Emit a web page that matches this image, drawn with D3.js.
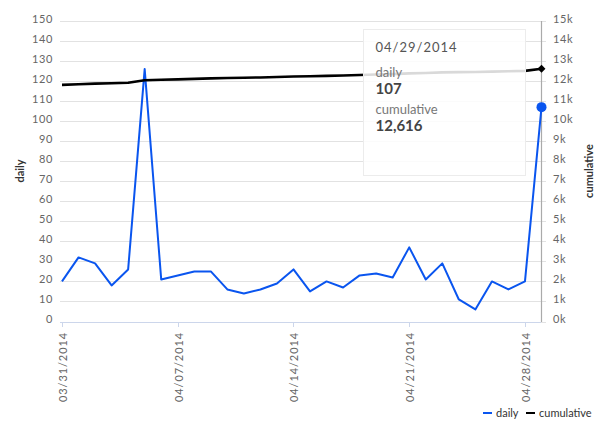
<!DOCTYPE html>
<html>
<head>
<meta charset="utf-8">
<script src="https://cdn.jsdelivr.net/npm/d3@7"></script>
<style>
  body { margin: 0; background: #fff; }
  svg { font-family: Lato, "Open Sans", sans-serif; }
</style>
</head>
<body>
<div id="chart"></div>
<script>
// data
var dates = ["03/31/2014","04/01/2014","04/02/2014","04/03/2014","04/04/2014","04/05/2014",
  "04/06/2014","04/07/2014","04/08/2014","04/09/2014","04/10/2014","04/11/2014","04/12/2014",
  "04/13/2014","04/14/2014","04/15/2014","04/16/2014","04/17/2014","04/18/2014","04/19/2014",
  "04/20/2014","04/21/2014","04/22/2014","04/23/2014","04/24/2014","04/25/2014","04/26/2014",
  "04/27/2014","04/28/2014","04/29/2014"];
var daily = [20, 32, 29, 18, 26, 126, 21, 23, 25, 25, 16, 14, 16, 19, 26, 15, 20, 17, 23, 24,
  22, 37, 21, 29, 11, 6, 20, 16, 20, 107];
var cumulative = [11812, 11844, 11873, 11891, 11917, 12043, 12064, 12087, 12112, 12137, 12153,
  12167, 12183, 12202, 12228, 12243, 12263, 12280, 12303, 12327, 12349, 12386, 12407, 12436,
  12447, 12453, 12473, 12489, 12509, 12616];
var xTicks = ["03/31/2014", "04/07/2014", "04/14/2014", "04/21/2014", "04/28/2014"];
var leftTicks = [0, 10, 20, 30, 40, 50, 60, 70, 80, 90, 100, 110, 120, 130, 140, 150];
var rightTicks = [0, 1000, 2000, 3000, 4000, 5000, 6000, 7000, 8000, 9000, 10000, 11000,
  12000, 13000, 14000, 15000];

var width = 599, height = 428;
var parse = d3.timeParse("%m/%d/%Y");
var fmt = d3.timeFormat("%m/%d/%Y");

var x = d3.scaleTime()
  .domain([parse(dates[0]), parse(dates[dates.length - 1])])
  .range([62, 541.5]);
var yL = d3.scaleLinear().domain([0, 150]).range([321.5, 21]);
var yR = d3.scaleLinear().domain([0, 15000]).range([321.5, 21]);

var svg = d3.select("#chart").append("svg")
  .attr("width", width)
  .attr("height", height);

// grid
svg.append("g").selectAll("line").data(leftTicks).enter().append("line")
  .attr("x1", 60).attr("x2", 546)
  .attr("y1", function(d) { return Math.round(yL(d)) + 0.5; })
  .attr("y2", function(d) { return Math.round(yL(d)) + 0.5; })
  .attr("stroke", "#e2e2e2");

// left axis labels
svg.append("g").selectAll("text").data(leftTicks).enter().append("text")
  .attr("x", 53).attr("y", function(d) { return yL(d) - 2; })
  .attr("dy", "0.35em")
  .attr("text-anchor", "end")
  .attr("font-size", 11).attr("fill", "#666").style("letter-spacing", "0.6px")
  .text(function(d) { return d; });

// right axis line + labels
svg.append("line")
  .attr("x1", 541.5).attr("x2", 541.5).attr("y1", 21).attr("y2", 322)
  .attr("stroke", "#aaa").attr("stroke-width", 1.2);
svg.append("g").selectAll("text").data(rightTicks).enter().append("text")
  .attr("x", 553).attr("y", function(d) { return yR(d) - 2; })
  .attr("dy", "0.35em")
  .attr("font-size", 11).attr("fill", "#666").style("letter-spacing", "0.6px")
  .text(function(d) { return (d / 1000) + "k"; });

// x axis
var xAxis = svg.append("g").attr("transform", "translate(0,322)");
xAxis.append("line").attr("x1", 60).attr("x2", 541).attr("y1", 0.5).attr("y2", 0.5)
  .attr("stroke", "#ccd6eb");
var xt = xAxis.selectAll(".tick").data(xTicks).enter().append("g")
  .attr("transform", function(d) { return "translate(" + (Math.round(x(parse(d))) + 0.5) + ",0)"; });
xt.append("line").attr("y1", 0).attr("y2", 5).attr("stroke", "#ccd6eb");
xt.append("text")
  .attr("transform", "translate(4,10) rotate(-90)")
  .attr("text-anchor", "end")
  .attr("font-size", 11).attr("fill", "#666").style("letter-spacing", "0.9px")
  .text(function(d) { return d; });

// axis titles
svg.append("text")
  .attr("transform", "translate(24,171) rotate(-90)")
  .attr("text-anchor", "middle")
  .attr("font-size", 11).attr("font-weight", "bold").attr("fill", "#333")
  .text("daily");
svg.append("text")
  .attr("transform", "translate(593,171) rotate(-90)")
  .attr("text-anchor", "middle")
  .attr("font-size", 11).attr("font-weight", "bold").attr("fill", "#333")
  .text("cumulative");

// lines
var lineL = d3.line()
  .x(function(d, i) { return x(parse(dates[i])); })
  .y(function(d) { return yL(d); });
var lineR = d3.line()
  .x(function(d, i) { return x(parse(dates[i])); })
  .y(function(d) { return yR(d); });

svg.append("path").datum(daily)
  .attr("d", lineL)
  .attr("fill", "none").attr("stroke", "#0a55ef").attr("stroke-width", 2)
  .attr("stroke-linejoin", "round");
svg.append("path").datum(cumulative)
  .attr("d", lineR)
  .attr("fill", "none").attr("stroke", "#000").attr("stroke-width", 2.6)
  .attr("stroke-linejoin", "round");

// hover markers on the last point
var last = dates.length - 1;
svg.append("circle")
  .attr("cx", x(parse(dates[last]))).attr("cy", yL(daily[last]))
  .attr("r", 5).attr("fill", "#0a55ef");
svg.append("path")
  .attr("d", d3.symbol().type(d3.symbolDiamond2).size(40))
  .attr("transform", "translate(" + x(parse(dates[last])) + "," + yR(cumulative[last]) + ")")
  .attr("fill", "#000");

// tooltip
var tip = svg.append("g").attr("transform", "translate(363.5,29.5)");
tip.append("rect")
  .attr("width", 162).attr("height", 146)
  .attr("fill", "rgba(255,255,255,0.85)")
  .attr("stroke", "#ececec");
tip.append("text").attr("x", 12).attr("y", 22)
  .attr("font-size", 13).attr("fill", "#555").style("letter-spacing", "1px")
  .text(fmt(parse(dates[last])));
tip.append("text").attr("x", 12).attr("y", 47)
  .attr("font-size", 13).attr("fill", "#777")
  .text("daily");
tip.append("text").attr("x", 12).attr("y", 64)
  .attr("font-size", 15).attr("font-weight", "bold").attr("fill", "#444")
  .text(d3.format(",")(daily[last]));
tip.append("text").attr("x", 12).attr("y", 84)
  .attr("font-size", 13).attr("fill", "#777")
  .text("cumulative");
tip.append("text").attr("x", 12).attr("y", 101)
  .attr("font-size", 15).attr("font-weight", "bold").attr("fill", "#444")
  .text(d3.format(",")(cumulative[last]));

// legend
var legend = svg.append("g").attr("transform", "translate(0,413)");
var items = [{ name: "daily", color: "#0a55ef", x: 483 }, { name: "cumulative", color: "#000", x: 526 }];
var li = legend.selectAll("g").data(items).enter().append("g")
  .attr("transform", function(d) { return "translate(" + d.x + ",0)"; });
li.append("line").attr("x1", 0).attr("x2", 9).attr("stroke", function(d) { return d.color; })
  .attr("stroke-width", 2);
li.append("text").attr("x", 13).attr("dy", "0.35em")
  .attr("font-size", 11).attr("fill", "#333")
  .text(function(d) { return d.name; });
</script>
</body>
</html>
